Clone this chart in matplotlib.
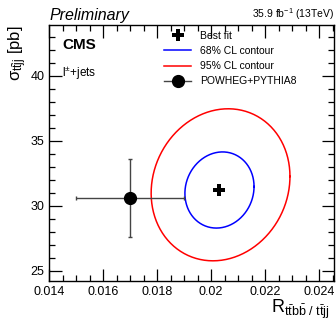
import numpy as np
import matplotlib
matplotlib.use("Agg")
import matplotlib.pyplot as plt
from matplotlib.lines import Line2D
from matplotlib.ticker import MultipleLocator

plt.rcParams["font.family"] = ["Liberation Sans", "DejaVu Sans"]
plt.rcParams["mathtext.fontset"] = "custom"
plt.rcParams["mathtext.rm"] = "Liberation Sans"
plt.rcParams["mathtext.it"] = "Liberation Sans:italic"
plt.rcParams["mathtext.bf"] = "Liberation Sans:bold"

# Best fit point
bestfit_r = 0.0203
bestfit_sigma = 31.2

# POWHEG+PYTHIA8 prediction
powheg_r = 0.0170
powheg_r_err = 0.0020
powheg_sigma = 30.6
powheg_sigma_err = 3.0

# contours (68% CL, 95% CL): centre, half widths, tilt
contour_labels = ["68% CL contour", "95% CL contour"]
contour_colors = ["#0000ff", "#ff0000"]
contour_r_centre = [0.02031, 0.02035]
contour_sigma_centre = [31.2, 31.6]
contour_r_halfwidth = [0.00128, 0.00257]
contour_sigma_halfwidth = [2.93, 5.85]
contour_tilt = [0.09, 0.11]

fig = plt.figure(figsize=(3.36, 3.20), dpi=100)
ax = fig.add_axes([0.146, 0.122, 0.848, 0.800])

t = np.linspace(0, 2 * np.pi, 300)
for cr, cs, hr, hs, a, col in zip(contour_r_centre, contour_sigma_centre,
                                   contour_r_halfwidth, contour_sigma_halfwidth,
                                   contour_tilt, contour_colors):
    ax.plot(cr + hr * np.cos(t), cs + hs * np.sin(t + a), color=col, lw=1.1)

ax.errorbar(powheg_r, powheg_sigma, xerr=powheg_r_err, yerr=powheg_sigma_err,
            fmt="o", color="black", ecolor="#444444", elinewidth=1.0,
            capsize=1.5, capthick=1.0, markersize=8.5, zorder=5)
ax.plot(bestfit_r, bestfit_sigma, marker="P", color="black",
        markersize=9, markeredgewidth=0, linestyle="none", zorder=6)

ax.set_xlim(0.014, 0.02455)
ax.set_ylim(24.2, 43.9)
ax.xaxis.set_minor_locator(MultipleLocator(0.0005))
ax.yaxis.set_major_locator(MultipleLocator(5))
ax.yaxis.set_minor_locator(MultipleLocator(1))
ax.set_xticks([0.014, 0.016, 0.018, 0.02, 0.022, 0.024])
ax.set_xticklabels(["0.014", "0.016", "0.018", "0.02", "0.022", "0.024"])
ax.tick_params(which="both", direction="in", top=True, right=True,
               labelsize=9, width=0.9)
ax.tick_params(which="major", length=9)
ax.tick_params(which="minor", length=4.5)
for s in ax.spines.values():
    s.set_linewidth(1.0)

ax.set_xlabel(r"R$_{\mathregular{t\bar{t}b\bar{b}\ /\ t\bar{t}jj}}$", fontsize=13,
              ha="right", va="top")
ax.xaxis.set_label_coords(0.985, -0.064)
ax.set_ylabel(r"$\mathregular{\sigma}_{\mathregular{t\bar{t}jj}}$ [pb]", fontsize=12,
              ha="right", va="bottom")
ax.yaxis.set_label_coords(-0.07, 1.0)

ax.text(0.0, 1.008, "Preliminary", transform=ax.transAxes, fontsize=11.5,
        style="italic", ha="left", va="bottom")
ax.text(1.0, 1.012, r"35.9 fb$^{-1}$ (13TeV)", transform=ax.transAxes,
        fontsize=7.5, ha="right", va="bottom")
ax.text(0.045, 0.92, "CMS", transform=ax.transAxes, fontsize=11,
        fontweight="bold", ha="left", va="center")
ax.text(0.045, 0.81, r"l$^{\pm}$+jets", transform=ax.transAxes, fontsize=8.5,
        ha="left", va="center")

handles = [
    Line2D([], [], marker="P", color="black", markersize=9, markeredgewidth=0,
           linestyle="none"),
    Line2D([], [], color=contour_colors[0], lw=1.1),
    Line2D([], [], color=contour_colors[1], lw=1.1),
    Line2D([], [], color="#444444", lw=1.0, marker="o", markersize=8.5,
           markerfacecolor="black", markeredgecolor="black"),
]
labels = ["Best fit"] + contour_labels + ["POWHEG+PYTHIA8"]
ax.legend(handles, labels, loc="upper left", bbox_to_anchor=(0.375, 1.01),
          frameon=False, fontsize=7.5, handlelength=2.6, handletextpad=0.8,
          labelspacing=0.5, borderpad=0.3)

fig.savefig("out.png", dpi=100)
